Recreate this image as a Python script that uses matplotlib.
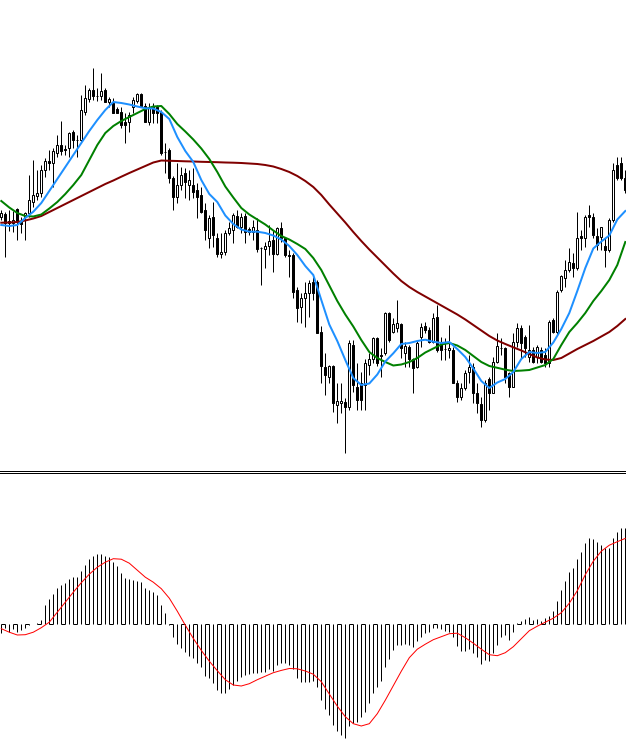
import numpy as np
import matplotlib
matplotlib.use("Agg")
import matplotlib.pyplot as plt
from matplotlib.patches import Rectangle
from matplotlib.lines import Line2D

# ---------------- data ----------------
opens = [283, 286, 279, 277, 291, 278, 283, 287, 298, 304,
         307, 330, 339, 337, 347, 355, 351, 352, 368, 360,
         360, 388, 401, 410, 404, 404, 410, 398, 397, 391,
         388, 378, 378, 393, 399, 406, 394, 378, 393, 393,
         388, 348, 350, 322, 303, 315, 327, 315, 315, 310,
         305, 290, 262, 283, 262, 246, 248, 267, 270, 284,
         273, 284, 271, 268, 270, 252, 251, 254, 260, 246,
         272, 262, 245, 245, 210, 193, 202, 207, 218, 218,
         168, 133, 123, 134, 95, 97, 98, 93, 155, 113,
         117, 115, 135, 141, 162, 145, 147, 187, 168, 172,
         176, 147, 153, 141, 133, 163, 174, 170, 158, 183,
         157, 151, 150, 150, 117, 103, 112, 128, 133, 107,
         96, 80, 121, 107, 138, 152, 152, 127, 113, 158,
         172, 163, 143, 150, 143, 150, 145, 137, 180, 168,
         210, 222, 230, 237, 232, 264, 262, 285, 283, 264,
         263, 254, 250, 280, 335, 337, 322]
highs = [290, 288, 290, 289, 292, 283, 288, 325, 340, 330,
         335, 342, 350, 352, 365, 379, 355, 368, 370, 365,
         405, 415, 412, 432, 412, 427, 412, 403, 402, 393,
         393, 387, 388, 403, 407, 407, 397, 397, 397, 395,
         390, 357, 352, 324, 337, 333, 332, 330, 332, 317,
         313, 297, 285, 298, 267, 267, 270, 278, 287, 290,
         287, 287, 273, 280, 282, 253, 258, 275, 270, 273,
         278, 263, 250, 247, 213, 207, 218, 220, 223, 220,
         174, 147, 135, 135, 117, 117, 102, 160, 160, 137,
         128, 141, 147, 163, 163, 152, 188, 188, 182, 200,
         177, 158, 155, 142, 160, 177, 178, 173, 187, 195,
         163, 162, 175, 153, 120, 117, 130, 145, 137, 117,
         103, 120, 123, 143, 167, 162, 153, 128, 167, 177,
         175, 165, 175, 153, 155, 153, 152, 180, 182, 210,
         225, 240, 252, 247, 288, 270, 285, 295, 287, 272,
         273, 262, 282, 337, 343, 343, 330]
lows = [280, 243, 269, 268, 260, 267, 260, 283, 293, 300,
        303, 323, 330, 313, 343, 345, 345, 343, 352, 343,
        358, 385, 398, 400, 399, 400, 398, 393, 387, 387,
        372, 357, 368, 387, 397, 393, 378, 375, 377, 377,
        345, 327, 317, 290, 297, 310, 302, 300, 302, 282,
        287, 260, 252, 253, 243, 242, 245, 265, 257, 272,
        267, 257, 265, 260, 248, 215, 232, 245, 228, 245,
        258, 243, 223, 202, 178, 177, 173, 183, 200, 167,
        117, 105, 117, 88, 77, 87, 47, 90, 108, 90,
        90, 90, 125, 137, 134, 123, 145, 158, 167, 168,
        142, 133, 133, 107, 132, 153, 167, 157, 157, 148,
        140, 140, 142, 117, 98, 100, 110, 117, 97, 87,
        73, 78, 90, 107, 137, 145, 117, 103, 113, 153,
        142, 143, 138, 137, 137, 137, 133, 133, 167, 165,
        208, 213, 228, 223, 230, 250, 253, 273, 262, 250,
        250, 233, 248, 278, 320, 320, 307]
closes = [287, 277, 277, 280, 278, 276, 287, 300, 305, 307,
          330, 339, 337, 349, 355, 349, 350.5, 367, 360, 360,
          390, 402, 410, 404, 404, 409, 398, 401, 387, 387,
          375, 375, 385, 400, 406, 394, 378, 393, 387, 387,
          347, 348, 322, 303, 315, 325, 318, 320, 308, 303,
          288, 270, 282, 265, 246, 248, 267, 272, 285, 273,
          283, 268, 268, 273, 251, 252, 254, 259, 246, 272,
          262, 245, 244, 208, 192, 202, 207, 217, 207, 167,
          134, 125, 134, 97, 99, 99, 93, 157, 115, 100,
          100, 137, 141, 162, 137, 144, 187, 160, 176, 177,
          152, 154, 141, 132, 157, 173, 170, 158, 182, 150,
          150, 151, 152, 117, 103, 112, 127, 133, 107, 97,
          80, 117, 107, 138, 154, 152, 123, 113, 158, 172,
          157, 152, 150, 138, 153, 138, 137, 178, 168, 208,
          224, 230, 238, 232, 262, 262, 283, 283, 265, 255,
          273, 250, 280, 330, 322, 322, 310]

# moving averages, one reading every 2 bars
ma_fast = [275, 274, 275, 282, 288.3, 297, 309, 321, 333, 345,
           357, 369, 380, 390, 398, 397, 395.5, 393.5, 391.7, 391.5,
           388, 381, 363, 349, 338, 320, 306, 298, 284.5, 276,
           270.5, 268.3, 268.3, 267, 264.5, 260.5, 254, 245, 234, 225,
           200, 175.5, 159, 140, 122, 115, 116.5, 125.5, 138.5, 146.7,
           156, 157, 159, 160.3, 158.3, 157, 158, 151, 143, 131.5,
           119, 112, 117.5, 121, 128, 141, 148, 147, 148, 157.5,
           171, 187, 209, 232, 251.5, 258.5, 264.5, 280.5, 289]
ma_mid = [299, 292.5, 287, 284, 283.5, 285.5, 291.5, 298, 306, 315,
          325, 340, 355, 367, 374, 379, 383, 387, 391, 393.5,
          394, 386, 376, 368.5, 360.5, 351.5, 341, 328, 313.5, 302.5,
          292, 285.5, 280.5, 275.5, 269.5, 264, 260.5, 256, 251, 242,
          230, 214.5, 199, 185.5, 173.5, 160, 148, 142, 138, 134.5,
          135.5, 138, 142, 147.5, 151.5, 155.5, 157, 154.5, 150, 144,
          138, 134, 132.2, 130.3, 129, 129.4, 130, 132.5, 135, 141,
          155, 168, 177, 187, 199, 209, 220, 235, 258]
ma_slow = [277.3, 277.5, 278, 279.5, 281.5, 284, 288, 292, 296, 300,
           304, 308, 312, 316, 319.5, 323.3, 327, 330.5, 334, 337.5,
           339.5, 339.2, 339, 338.7, 338.5, 338.2, 338, 337.8, 337.5, 337.3,
           337, 336.5, 336, 335, 333.5, 331, 328, 324, 319, 313,
           305, 295.5, 286.5, 277.5, 268, 259, 250.5, 242.5, 234.5, 226.5,
           219, 213, 208, 203.5, 199, 194.5, 190, 185.5, 180.5, 175,
           169.5, 164, 159.5, 156, 152.7, 149.5, 146, 142.5, 140.5, 140,
           142, 146.5, 151, 155, 159, 163.5, 168, 174, 181]
line_step = 2

# MACD histogram (one per bar) and signal line (one reading every 2 bars)
macd_hist = [-9, -4, -8, -5, -8, -6, -4, -1, 0, 1,
             3.5, 18.7, 24.3, 29.7, 35.3, 38.7, 41, 44.7, 47, 47,
             52.7, 58.7, 64.3, 67.7, 69.3, 69.7, 68, 66.3, 62, 57.7,
             50.3, 45.3, 44.3, 43.7, 43, 42, 35.3, 33.7, 32, 28.7,
             18.7, 10.3, -1, -13, -20.3, -24.7, -28, -32.3, -34.7, -39,
             -43.7, -52, -54.7, -59, -66.3, -69.7, -69, -65.7, -61.3, -57,
             -53.7, -51.3, -50.3, -49.7, -49.7, -48.7, -48, -45.7, -47, -41.3,
             -39.7, -39, -41.3, -45.7, -54.7, -58, -58.7, -58.7, -57, -63.7,
             -76.3, -85.3, -91.3, -101.3, -107, -111.3, -114, -102.3, -99.7, -98,
             -93, -88, -79, -69, -63, -57, -43, -35.3, -26.3, -21.3,
             -21.3, -20.3, -21.3, -23, -17.3, -13, -9.7, -8, -4, -4.7,
             -5.7, -7, -8, -13, -22.3, -27, -27, -25.7, -29.7, -33.7,
             -40.3, -36.3, -37, -29.7, -21.3, -13.7, -11.3, -16.3, -8, 1,
             2.7, 4.3, 6.3, 3.7, 4.3, 2.7, 5.3, 7.7, 12.7, 23,
             33.7, 42.7, 52, 55.3, 64.3, 71.3, 80.3, 85.3, 84.3, 82,
             78.7, 75.3, 76, 85.3, 92, 95.3, 95.3]
macd_signal = [-5, -8.5, -11.3, -11, -8.5, -4, 1.5, 11.5, 21.5, 31.5,
               41, 49.5, 56.5, 61.5, 65, 64.5, 60.5, 53.5, 46.5, 41.5,
               35, 25.5, 12.5, -1.5, -14.7, -26.7, -37.5, -47, -56, -61.3,
               -62.3, -60, -56, -52.5, -49, -46.7, -44.8, -45.1, -47.3, -50.5,
               -58, -70.3, -82.5, -93, -100, -102.3, -100, -90, -76.5, -62,
               -47.5, -34, -25.5, -20.5, -16, -13, -10, -9.5, -14, -19.5,
               -25.5, -31, -32, -29, -23, -15, -7, -2.5, 1.5, 5.5,
               11, 20.5, 33, 49, 62.5, 72.5, 78.5, 82, 85.3]

# ---------------- figure ----------------
W, H = 626, 742
fig = plt.figure(figsize=(W / 100, H / 100), dpi=100)
fig.patch.set_facecolor("white")

n = len(closes)
x = np.arange(n)
x_left = -1.3 / 4.0
x_right = x_left + W / 4.0

top_h = 469
ax = fig.add_axes([0, 1 - top_h / H, 1, top_h / H])
ax.set_xlim(x_left, x_right)
ax.set_ylim(31, 500)
ax.axis("off")

px = 0.72  # one pixel in points
o = np.array(opens, float)
c = np.array(closes, float)
ax.vlines(x, lows, highs, color="black", linewidth=px, zorder=2)
body_w = 0.5
for i in range(n):
    lo, hi = min(o[i], c[i]), max(o[i], c[i])
    up = c[i] >= o[i]
    ax.add_patch(Rectangle((x[i] - body_w / 2, lo), body_w, hi - lo,
                           facecolor="white" if up else "black",
                           edgecolor="black", linewidth=px, zorder=3))

mx = np.arange(len(ma_slow)) * line_step
ax.plot(mx, ma_slow, color="#800000", linewidth=2 * px, zorder=4)
ax.plot(mx, ma_mid, color="#008000", linewidth=2 * px, zorder=5)
ax.plot(mx, ma_fast, color="#1E90FF", linewidth=2 * px, zorder=6)

# separator lines
for row in (470.5, 472.5):
    fig.add_artist(Line2D([0, 1], [1 - row / H, 1 - row / H],
                          color="black", linewidth=px, transform=fig.transFigure))

# MACD panel
bot_top = 474
bx = fig.add_axes([0, 0, 1, (H - bot_top) / H])
bx.set_xlim(x_left, x_right)
bx.set_ylim(-118.3, 149.7)
bx.axis("off")
bx.vlines(x, 0, macd_hist, color="black", linewidth=px)
for i in range(0, n - 1, 3):
    bx.plot([x[i], x[i + 1]], [0, 0], color="black", linewidth=px,
            solid_capstyle="butt")
sx = np.arange(len(macd_signal)) * line_step
bx.plot(sx, macd_signal, color="#FF0000", linewidth=px)

fig.savefig("out.png", dpi=100, facecolor="white")
